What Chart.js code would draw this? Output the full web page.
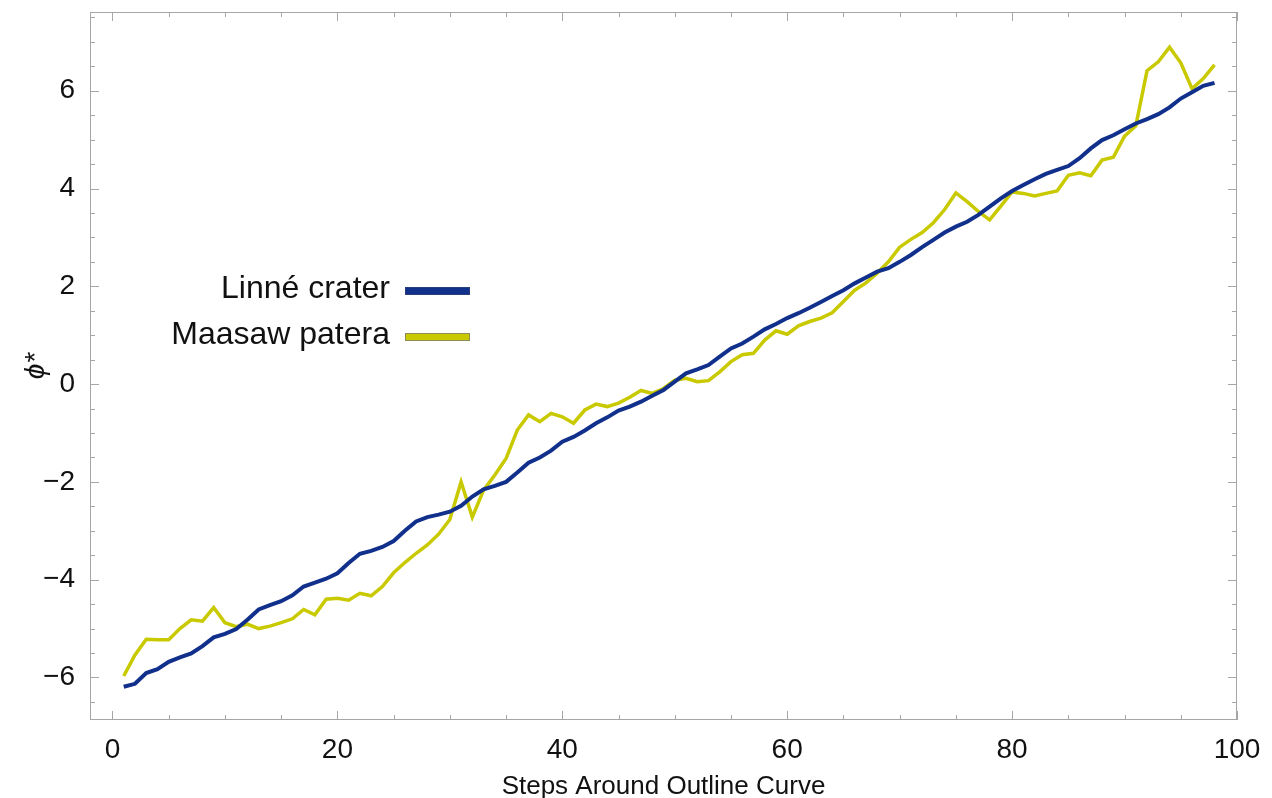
<!DOCTYPE html>
<html lang="en">
<head>
<meta charset="UTF-8">
<title>Steps Around Outline Curve</title>
<script src="https://cdn.jsdelivr.net/npm/chart.js"></script>
<style>
    html, body {
        margin: 0;
        padding: 0;
        background: #fff;
    }
    #wrap {
        width: 1272px;
        height: 798px;
    }
</style>
</head>
<body>
<div id="wrap"><canvas id="chart" width="1272" height="798"></canvas></div>
<script>
    // x positions (step index)
    const steps = [1, 2, 3, 4, 5, 6, 7, 8, 9, 10, 11, 12, 13, 14, 15, 16, 17, 18, 19, 20,
        21, 22, 23, 24, 25, 26, 27, 28, 29, 30, 31, 32, 33, 34, 35, 36, 37, 38, 39, 40,
        41, 42, 43, 44, 45, 46, 47, 48, 49, 50, 51, 52, 53, 54, 55, 56, 57, 58, 59, 60,
        61, 62, 63, 64, 65, 66, 67, 68, 69, 70, 71, 72, 73, 74, 75, 76, 77, 78, 79, 80,
        81, 82, 83, 84, 85, 86, 87, 88, 89, 90, 91, 92, 93, 94, 95, 96, 97, 98];

    const linne = [-6.19, -6.13, -5.91, -5.83, -5.68, -5.59, -5.51, -5.36, -5.18, -5.11,
        -5.01, -4.82, -4.61, -4.52, -4.44, -4.32, -4.14, -4.06, -3.98, -3.87,
        -3.66, -3.47, -3.41, -3.33, -3.21, -3.00, -2.81, -2.72, -2.67, -2.61,
        -2.49, -2.30, -2.15, -2.08, -2.00, -1.81, -1.61, -1.50, -1.36, -1.18,
        -1.08, -0.95, -0.80, -0.68, -0.54, -0.46, -0.36, -0.24, -0.12, 0.05,
        0.22, 0.30, 0.39, 0.56, 0.73, 0.83, 0.97, 1.12, 1.23, 1.35,
        1.45, 1.56, 1.68, 1.80, 1.92, 2.06, 2.18, 2.30, 2.37, 2.50,
        2.64, 2.80, 2.95, 3.10, 3.22, 3.32, 3.46, 3.63, 3.80, 3.95,
        4.07, 4.19, 4.30, 4.38, 4.46, 4.62, 4.82, 4.99, 5.09, 5.21,
        5.33, 5.42, 5.52, 5.66, 5.84, 5.97, 6.10, 6.16];

    const maasaw = [-5.97, -5.54, -5.22, -5.23, -5.23, -5.00, -4.82, -4.85, -4.57, -4.88,
        -4.96, -4.91, -5.00, -4.95, -4.88, -4.80, -4.61, -4.72, -4.40, -4.38,
        -4.42, -4.28, -4.33, -4.14, -3.86, -3.65, -3.46, -3.29, -3.07, -2.77,
        -2.00, -2.72, -2.17, -1.86, -1.52, -0.94, -0.63, -0.77, -0.60, -0.67,
        -0.80, -0.53, -0.41, -0.46, -0.39, -0.27, -0.13, -0.19, -0.09, 0.08,
        0.12, 0.05, 0.07, 0.25, 0.46, 0.60, 0.63, 0.90, 1.09, 1.02,
        1.19, 1.28, 1.35, 1.46, 1.69, 1.92, 2.07, 2.27, 2.50, 2.80,
        2.96, 3.10, 3.30, 3.57, 3.91, 3.73, 3.53, 3.36, 3.64, 3.93,
        3.90, 3.85, 3.90, 3.95, 4.27, 4.32, 4.26, 4.58, 4.64, 5.07,
        5.28, 6.41, 6.59, 6.89, 6.57, 6.04, 6.25, 6.53];

    const seriesNames = ['Linné crater', 'Maasaw patera'];
    const xTickValues = [0, 20, 40, 60, 80, 100];
    const yTickValues = [-6, -4, -2, 0, 2, 4, 6];

    const BLUE = '#11308c';
    const YELLOW = '#c9c900';
    const FRAME = '#a6a6a6';
    const FONT = '"Liberation Sans", Arial, sans-serif';

    function toPoints(values) {
        return steps.map((s, i) => ({ x: s, y: values[i] }));
    }

    // Mathematica style frame with inward ticks on all four sides
    const framePlugin = {
        id: 'frame',
        beforeDatasetsDraw(chart) {
            const { ctx, chartArea: a, scales } = chart;
            const xs = scales.x, ys = scales.y;
            ctx.save();
            ctx.strokeStyle = FRAME;
            ctx.lineWidth = 1;
            ctx.strokeRect(a.left + 0.5, a.top + 0.5, a.right - a.left - 1, a.bottom - a.top - 1);
            ctx.beginPath();
            for (let v = 0; v <= 100; v += 5) {
                const px = Math.round(xs.getPixelForValue(v)) + 0.5;
                const len = v % 20 === 0 ? 9 : 5;
                ctx.moveTo(px, a.bottom); ctx.lineTo(px, a.bottom - len);
                ctx.moveTo(px, a.top); ctx.lineTo(px, a.top + len);
            }
            for (let k = -13; k <= 15; k++) {
                const v = k / 2;
                const py = Math.round(ys.getPixelForValue(v)) + 0.5;
                const len = k % 4 === 0 ? 9 : 5;
                ctx.moveTo(a.left, py); ctx.lineTo(a.left + len, py);
                ctx.moveTo(a.right, py); ctx.lineTo(a.right - len, py);
            }
            ctx.stroke();
            ctx.restore();
        }
    };

    // inset legend: label text on the left, line sample on the right
    const legendPlugin = {
        id: 'insetLegend',
        afterDraw(chart) {
            const { ctx, chartArea: a } = chart;
            const textRight = a.left + 300;
            const x0 = textRight + 15, x1 = textRight + 80;
            const rows = [a.top + 279, a.top + 325];
            ctx.save();
            ctx.font = '32px ' + FONT;
            ctx.textAlign = 'right';
            ctx.textBaseline = 'middle';
            chart.data.datasets.forEach((ds, i) => {
                const y = rows[i];
                ctx.fillStyle = '#111';
                ctx.fillText(ds.label, textRight, y - 2);
                ctx.fillStyle = ds.borderColor;
                ctx.fillRect(x0, y - 4, x1 - x0, 8);
                ctx.strokeStyle = i === 0 ? '#2a3f7a' : '#8c8c5a';
                ctx.lineWidth = 1;
                ctx.strokeRect(x0 + 0.5, y - 3.5, x1 - x0 - 1, 7);
            });
            ctx.restore();
        }
    };

    new Chart(document.getElementById('chart'), {
        type: 'line',
        data: {
            datasets: [{
                label: seriesNames[0],
                data: toPoints(linne),
                borderColor: BLUE,
                borderWidth: 4,
                pointRadius: 0,
                tension: 0,
                fill: false
            }, {
                label: seriesNames[1],
                data: toPoints(maasaw),
                borderColor: YELLOW,
                borderWidth: 3.5,
                pointRadius: 0,
                tension: 0,
                fill: false
            }]
        },
        options: {
            responsive: false,
            animation: false,
            devicePixelRatio: 1,
            layout: { padding: { top: 12, right: 35, left: 0, bottom: 0 } },
            plugins: {
                legend: { display: false },
                tooltip: { enabled: false }
            },
            scales: {
                x: {
                    type: 'linear',
                    min: -2,
                    max: 100,
                    afterBuildTicks: s => { s.ticks = xTickValues.map(v => ({ value: v })); },
                    afterFit: s => { s.height = 78; s.paddingLeft = 0; s.paddingRight = 0; },
                    grid: { display: false },
                    border: { display: false },
                    ticks: {
                        color: '#111',
                        font: { family: FONT, size: 28 },
                        padding: 5,
                        maxRotation: 0
                    },
                    title: {
                        display: true,
                        text: 'Steps Around Outline Curve',
                        color: '#111',
                        font: { family: FONT, size: 26 },
                        padding: { top: 0, bottom: -4 }
                    }
                },
                y: {
                    type: 'linear',
                    min: -6.87,
                    max: 7.61,
                    afterBuildTicks: s => { s.ticks = yTickValues.map(v => ({ value: v })); },
                    afterFit: s => { s.width = 90; s.paddingTop = 0; s.paddingBottom = 0; },
                    grid: { display: false },
                    border: { display: false },
                    ticks: {
                        color: '#111',
                        font: { family: FONT, size: 28 },
                        padding: 7,
                        callback: v => (v < 0 ? '\u2212' + Math.abs(v) : String(v))
                    },
                    title: {
                        display: true,
                        text: 'ϕ*',
                        color: '#111',
                        font: { family: FONT, size: 28, style: 'italic' },
                        padding: { top: 19, bottom: 0 }
                    }
                }
            }
        },
        plugins: [framePlugin, legendPlugin]
    });
</script>
</body>
</html>
